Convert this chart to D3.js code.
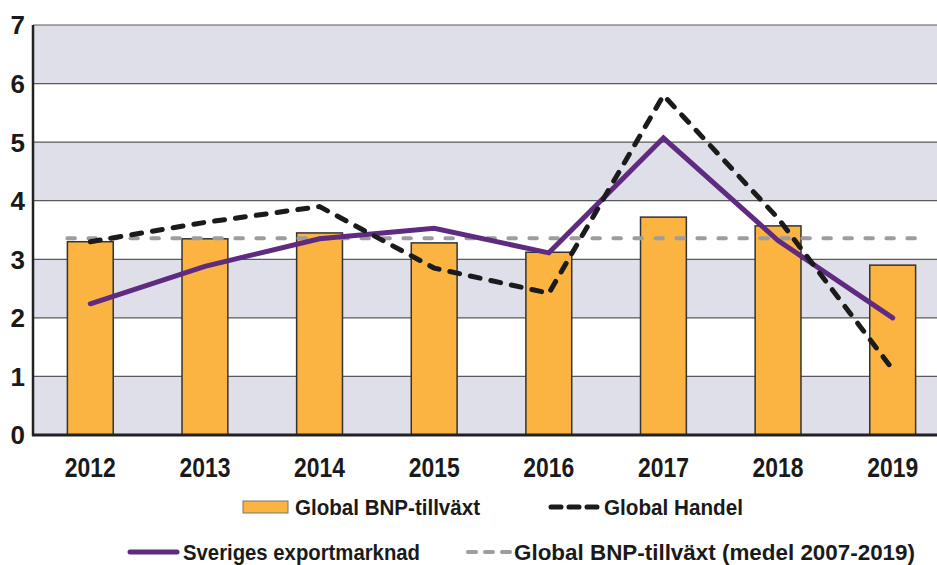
<!DOCTYPE html>
<html>
<head>
<meta charset="utf-8">
<script src="https://cdn.jsdelivr.net/npm/d3@7"></script>
<style>
	body {margin:0; background:#fff;}
	svg {display:block;}
	.ylab {font-family:"Liberation Sans", Arial, sans-serif; font-weight:bold; font-size:26px; fill:#1a1a1a;}
	.xlab, .leg {font-family:"Liberation Sans", Arial, sans-serif; font-weight:bold; fill:#1a1a1a;}
	.xlab {font-size:27px;}
	.leg {font-size:22px;}
</style>
</head>
<body>
<div class="c_chart"></div>
<script>

/*DATA
------------------------------------------------------
*/
const years = ["2012","2013","2014","2015","2016","2017","2018","2019"];
const bnp = [3.3, 3.35, 3.45, 3.28, 3.12, 3.72, 3.57, 2.9];          // Global BNP-tillväxt (staplar)
const handel = [3.3, 3.63, 3.9, 2.85, 2.42, 5.8, 3.7, 1.12];          // Global Handel
const exportm = [2.24, 2.88, 3.35, 3.53, 3.11, 5.07, 3.32, 2.0];      // Sveriges exportmarknad
const bnpMedel = 3.36;                                                // medel 2007-2019
const yTicks = [0,1,2,3,4,5,6,7];

/*SVG, FORMAT
------------------------------------------------------
*/
let width = 937;
let height = 565;

let svg = d3.select(".c_chart")
	.append("svg")
	.attr("width", width)
	.attr("height", height);

const plot = {left:33, right:950, top:25, bottom:435};

let x = d3.scaleBand()
	.domain(years)
	.range([plot.left, plot.right])
	.paddingInner(0.6)
	.paddingOuter(0.3);

let y = d3.scaleLinear()
	.domain([0, 7])
	.range([plot.bottom, plot.top]);

let cx = d => x(d) + x.bandwidth()/2;

/*BAKGRUND, RUTNÄT
------------------------------------------------------
*/
svg.append("g")
	.selectAll("rect")
	.data(yTicks.filter(t => t < 7 && t % 2 === 0))
	.enter()
	.append("rect")
	.attr("x", plot.left)
	.attr("width", plot.right - plot.left)
	.attr("y", d => y(d+1))
	.attr("height", d => y(d) - y(d+1))
	.attr("fill", "#dfdfea");

svg.append("g")
	.selectAll("line")
	.data(yTicks.filter(t => t > 0))
	.enter()
	.append("line")
	.attr("x1", plot.left)
	.attr("x2", plot.right)
	.attr("y1", d => y(d))
	.attr("y2", d => y(d))
	.attr("stroke", "#5a5a5a")
	.attr("stroke-width", 1.2);

/*STAPLAR
------------------------------------------------------
*/
svg.append("g")
	.selectAll("rect")
	.data(bnp)
	.enter()
	.append("rect")
	.attr("x", (d,i) => x(years[i]))
	.attr("width", x.bandwidth())
	.attr("y", d => y(d))
	.attr("height", d => y(0) - y(d))
	.attr("fill", "#fbb341")
	.attr("stroke", "#333")
	.attr("stroke-width", 1.5);

/*LINJER
------------------------------------------------------
*/
let line = d3.line()
	.x((d,i) => cx(years[i]))
	.y(d => y(d));

// medel 2007-2019
svg.append("line")
	.attr("x1", x(years[0]))
	.attr("x2", x(years[years.length-1]) + x.bandwidth())
	.attr("y1", y(bnpMedel))
	.attr("y2", y(bnpMedel))
	.attr("stroke", "#9d9d9f")
	.attr("stroke-width", 4)
	.attr("stroke-linecap", "round")
	.attr("stroke-dasharray", "7.5,13.5");

svg.append("path")
	.datum(exportm)
	.attr("d", line)
	.attr("fill", "none")
	.attr("stroke", "#5f2b80")
	.attr("stroke-width", 5)
	.attr("stroke-linecap", "round");

svg.append("path")
	.datum(handel)
	.attr("d", line)
	.attr("fill", "none")
	.attr("stroke", "#1b1b1b")
	.attr("stroke-width", 5)
	.attr("stroke-linecap", "round")
	.attr("stroke-dasharray", "10,11");

/*AXLAR
------------------------------------------------------
*/
svg.append("line")
	.attr("x1", plot.left).attr("x2", plot.left)
	.attr("y1", plot.top).attr("y2", plot.bottom + 1)
	.attr("stroke", "#222").attr("stroke-width", 2.5);

svg.append("line")
	.attr("x1", plot.left - 1).attr("x2", plot.right)
	.attr("y1", plot.bottom).attr("y2", plot.bottom)
	.attr("stroke", "#222").attr("stroke-width", 3);

svg.append("g")
	.selectAll("text")
	.data(yTicks)
	.enter()
	.append("text")
	.attr("class", "ylab")
	.attr("x", 25)
	.attr("y", d => y(d))
	.attr("dy", "0.36em")
	.attr("text-anchor", "end")
	.text(d => d);

svg.append("g")
	.selectAll("text")
	.data(years)
	.enter()
	.append("text")
	.attr("class", "xlab")
	.attr("x", d => cx(d))
	.attr("y", 477)
	.attr("text-anchor", "middle")
	.attr("textLength", 51)
	.attr("lengthAdjust", "spacingAndGlyphs")
	.text(d => d);

/*LEGEND
------------------------------------------------------
*/
let leg = svg.append("g");

function legText(xPos, yPos, len, txt) {
	leg.append("text")
		.attr("class", "leg")
		.attr("x", xPos).attr("y", yPos)
		.attr("textLength", len)
		.attr("lengthAdjust", "spacingAndGlyphs")
		.text(txt);
}

leg.append("rect")
	.attr("x", 243).attr("y", 501)
	.attr("width", 45).attr("height", 12)
	.attr("fill", "#fbb341").attr("stroke", "#777").attr("stroke-width", 1);
legText(295, 515, 185, "Global BNP-tillväxt");

leg.append("line")
	.attr("x1", 551).attr("x2", 599).attr("y1", 507).attr("y2", 507)
	.attr("stroke", "#1b1b1b").attr("stroke-width", 5)
	.attr("stroke-linecap", "round").attr("stroke-dasharray", "10,8");
legText(604, 515, 139, "Global Handel");

leg.append("line")
	.attr("x1", 130).attr("x2", 177).attr("y1", 552).attr("y2", 552)
	.attr("stroke", "#5f2b80").attr("stroke-width", 5).attr("stroke-linecap", "round");
legText(183, 560, 237, "Sveriges exportmarknad");

leg.append("line")
	.attr("x1", 468).attr("x2", 510).attr("y1", 552).attr("y2", 552)
	.attr("stroke", "#9d9d9f").attr("stroke-width", 4)
	.attr("stroke-linecap", "round").attr("stroke-dasharray", "8,9");
legText(514, 560, 401, "Global BNP-tillväxt (medel 2007-2019)");

</script>
</body>
</html>
